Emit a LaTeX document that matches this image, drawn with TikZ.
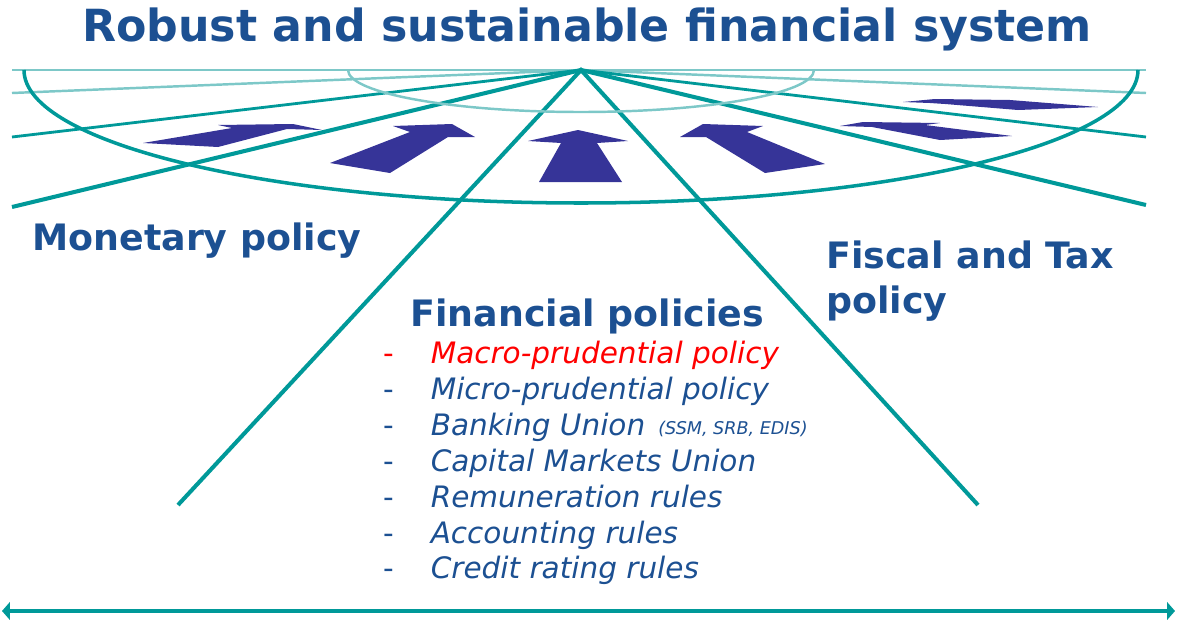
\documentclass[tikz,border=0pt]{standalone}
\usepackage{fontspec}
\setmainfont{DejaVu Sans}
\usetikzlibrary{arrows.meta}

\definecolor{lineteal}{RGB}{0,153,153}
\definecolor{lightteal}{RGB}{125,200,200}
\definecolor{arrowblue}{RGB}{54,52,152}
\definecolor{textblue}{RGB}{28,80,146}
\definecolor{policyred}{RGB}{255,0,0}

\begin{document}
\begin{tikzpicture}[x=0.02cm, y=-0.02cm,
    titletext/.style={text=textblue, font=\fontsize{25.2}{30}\selectfont\bfseries, anchor=base, inner sep=0pt},
    heading/.style={text=textblue, font=\fontsize{20.7}{25.5}\selectfont\bfseries, anchor=base west, align=left, inner sep=0pt},
    itemtext/.style={text=textblue, font=\fontsize{16.8}{20}\selectfont\itshape, anchor=base west, inner sep=0pt},
    ray/.style={draw=lineteal, line width=2.3pt},
    midray/.style={draw=lineteal, line width=1.6pt},
    thinray/.style={draw=lightteal, line width=1.4pt},
    bluearrow/.style={fill=arrowblue},
    axis/.style={draw=lineteal, line width=2.6pt, {Triangle[length=4.5pt,width=10pt]}-{Triangle[length=4.5pt,width=10pt]}}
]
\useasboundingbox (0,0) rectangle (1177,619);

% rays from the top point
\coordinate (apex) at (581,70);
\coordinate (lefttop) at (12,70);
\coordinate (leftthin) at (12,93);
\coordinate (leftmid) at (12,137);
\coordinate (leftlow) at (12,207);
\coordinate (leftfoot) at (178,505);
\coordinate (righttop) at (1146,70);
\coordinate (rightthin) at (1146,93);
\coordinate (rightmid) at (1146,137);
\coordinate (rightlow) at (1146,205);
\coordinate (rightfoot) at (978,505);

\draw[thinray] (lefttop) -- (righttop);
\draw[thinray] (leftthin) -- (apex) -- (rightthin);
\draw[midray] (leftmid) -- (apex) -- (rightmid);
\draw[ray] (leftlow) -- (apex) -- (rightlow);
\draw[ray] (leftfoot) -- (apex) -- (rightfoot);

% the two half ellipses
\draw[thinray] (apex) ++(-233,0) arc[start angle=180, end angle=0, x radius=233, y radius=42];
\draw[ray, line width=2pt] (apex) ++(-557,0) arc[start angle=180, end angle=0, x radius=557, y radius=133];

% arrows pointing to the top
\fill[bluearrow] (143,143) -- (218,147) -- (287,129) -- (322,130) -- (293,124) -- (218,125) -- (232,128) -- cycle;
\fill[bluearrow] (330,163) -- (390,173) -- (448,137) -- (475,137) -- (452,124) -- (393,126) -- (410,132) -- cycle;
\fill[bluearrow] (539,182) -- (622,182) -- (597,143) -- (628,141) -- (578,130) -- (528,141) -- (561,143) -- cycle;
\fill[bluearrow] (825,164) -- (765,173) -- (706,137) -- (680,137) -- (703,124) -- (763,126) -- (747,132) -- cycle;
\fill[bluearrow] (1012,136) -- (940,140) -- (872,127) -- (840,126) -- (863,122) -- (940,123) -- (925,125) -- cycle;
\fill[bluearrow] (903,102) -- (935,99) -- (1010,100) -- (1098,107) -- (1018,110) -- (945,104) -- (930,103) -- cycle;

% texts
\node[titletext] (title) at (587,41) {Robust and sustainable financial system};
\node[heading] (monetary) at (32,250) {Monetary policy};
\node[heading] (fiscal) at (826,313) {Fiscal and Tax\\policy};
\node[heading] (finpol) at (410,326) {Financial policies};

\node[itemtext, text=policyred] (macro) at (383,363) {\makebox[27pt][l]{\upshape -}Macro-prudential policy};
\node[itemtext] (micro) at (383,399) {\makebox[27pt][l]{\upshape -}Micro-prudential policy};
\node[itemtext] (banking) at (383,435) {\makebox[27pt][l]{\upshape -}Banking Union};
\node[itemtext, font=\fontsize{10}{12}\selectfont\itshape] (bankparts) at (658,434) {(SSM, SRB, EDIS)};
\node[itemtext] (capital) at (383,471) {\makebox[27pt][l]{\upshape -}Capital Markets Union};
\node[itemtext] (remun) at (383,507) {\makebox[27pt][l]{\upshape -}Remuneration rules};
\node[itemtext] (account) at (383,543) {\makebox[27pt][l]{\upshape -}Accounting rules};
\node[itemtext] (credit) at (383,578) {\makebox[27pt][l]{\upshape -}Credit rating rules};

% bottom axis
\coordinate (axisleft) at (2,611);
\coordinate (axisright) at (1175,611);
\draw[axis] (axisleft) -- (axisright);
\end{tikzpicture}
\end{document}
